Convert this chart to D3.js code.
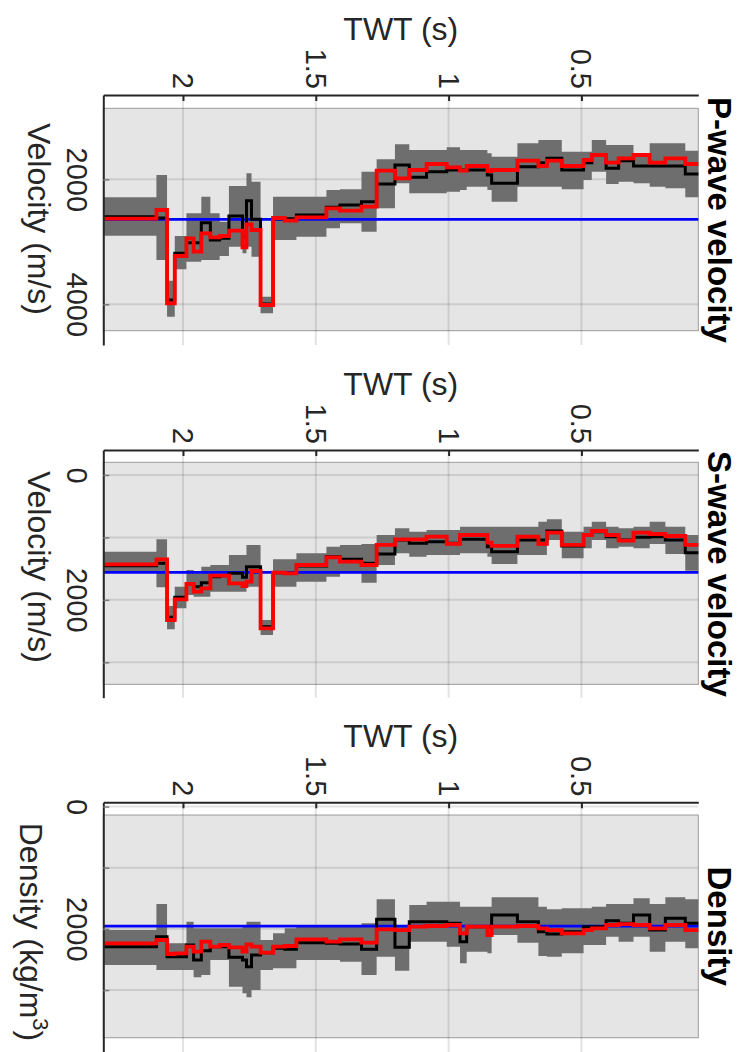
<!DOCTYPE html>
<html>
<head>
<meta charset="utf-8">
<script src="https://cdn.jsdelivr.net/npm/d3@7"></script>
<style>
  body { margin: 0; background: #fff; }
  svg { display: block; }
</style>
</head>
<body>
<svg width="740" height="1052"></svg>
<script>
// layer edges in TWT (s), listed left to right as drawn (deep -> shallow)
const twtEdges = [2.30, 2.100, 2.060, 2.031, 1.987, 1.960, 1.931, 1.897, 1.862, 1.827, 1.776,
  1.761, 1.742, 1.708, 1.661, 1.617, 1.573, 1.460, 1.409, 1.328, 1.271, 1.202, 1.148, 1.083,
  1.007, 0.957, 0.932, 0.854, 0.838, 0.741, 0.662, 0.630, 0.574, 0.492, 0.461, 0.407, 0.360,
  0.304, 0.243, 0.184, 0.109, 0.06];
const twtTicks = [2, 1.5, 1, 0.5];

// P-wave velocity (m/s)
const vpMean = [2597, 2619, 3931, 3184, 3013, 3013, 2693, 2971, 2944, 2587, 2917, 2342, 2640, 3995,
  2630, 2630, 2571, 2448, 2411, 2358, 2075, 1771, 1968, 1878, 1851, 1851, 1851, 1931, 2064, 1798,
  1734, 1664, 1851, 1734, 1611, 1824, 1702, 1787, 1787, 1787, 1915];
const vpTrue = [2630, 2491, 3984, 3227, 2944, 3157, 2864, 2928, 2907, 2821, 3088, 2720, 2811, 4011,
  2619, 2662, 2608, 2464, 2502, 2438, 1862, 1984, 1851, 1755, 1808, 1862, 1787, 1867, 1851, 1702,
  1787, 1702, 1787, 1691, 1611, 1734, 1664, 1611, 1734, 1664, 1755];
const vpLow = [2288, 1931, 3621, 2907, 2544, 2544, 2278, 2544, 2678, 2107, 2107, 1904, 2038, 3877,
  2278, 2278, 2278, 2171, 2160, 1878, 1680, 1440, 1531, 1531, 1488, 1531, 1531, 1584, 1638, 1424,
  1371, 1371, 1558, 1558, 1371, 1451, 1451, 1584, 1424, 1424, 1542];
const vpHigh = [2901, 3291, 4197, 3440, 3318, 3318, 3291, 3291, 3227, 3077, 3184, 3077, 3238, 4144,
  2971, 2971, 2917, 2784, 2704, 2837, 2464, 2064, 2224, 2224, 2198, 2171, 2118, 2171, 2358, 2118,
  2118, 2118, 2160, 2011, 1878, 2075, 2038, 2064, 2118, 2144, 2288];
const vpStart = 2640;

// S-wave velocity (m/s)
const vsMean = [1453, 1415, 2280, 1960, 1746, 1789, 1725, 1629, 1613, 1575, 1639, 1469, 1469, 2429,
  1565, 1575, 1458, 1308, 1351, 1415, 1266, 1041, 1095, 1068, 1095, 1031, 1031, 1148, 1228, 1041,
  1041, 897, 1137, 961, 908, 988, 1041, 999, 988, 1041, 1244];
const vsTrue = [1431, 1351, 2323, 1992, 1746, 1869, 1816, 1613, 1613, 1735, 1778, 1709, 1538, 2456,
  1565, 1575, 1442, 1319, 1388, 1442, 1121, 1031, 1031, 988, 1105, 961, 961, 1084, 1137, 988,
  1105, 924, 1121, 961, 897, 961, 1052, 924, 945, 977, 1121];
const vsLow = [1228, 1031, 2098, 1789, 1522, 1575, 1469, 1442, 1442, 1282, 1282, 1121, 1121, 2323,
  1351, 1351, 1255, 1148, 1121, 1105, 961, 854, 908, 881, 881, 828, 828, 828, 828, 828,
  748, 710, 908, 828, 748, 828, 854, 828, 748, 828, 961];
const vsHigh = [1549, 1800, 2472, 2136, 1922, 1949, 1949, 1869, 1869, 1869, 1869, 1789, 1789, 2563,
  1789, 1789, 1709, 1629, 1575, 1725, 1442, 1255, 1308, 1282, 1282, 1255, 1255, 1308, 1426, 1282,
  1282, 1041, 1335, 1175, 1041, 1175, 1148, 1175, 1105, 1266, 1533];
const vsStart = 1560;

// Density (kg/m^3)
const rhoMean = [2291, 2128, 2455, 2455, 2264, 2509, 2357, 2291, 2291, 2466, 2509, 2618, 2427, 2389,
  2318, 2335, 2226, 2237, 2248, 2335, 1844, 2302, 1883, 1883, 1910, 2209, 1964, 1964, 1773, 1883,
  2046, 2084, 2046, 1964, 1964, 1866, 1910, 1773, 2019, 1828, 1910];
const rhoTrue = [2237, 2182, 2411, 2400, 2291, 2373, 2209, 2291, 2264, 2302, 2373, 2253, 2291, 2389,
  2291, 2280, 2171, 2209, 2171, 2226, 2008, 2019, 1964, 1953, 1937, 2073, 1964, 2100, 1964, 1953,
  1991, 2019, 2073, 2019, 1991, 1937, 1921, 1937, 1991, 1937, 2019];
const rhoLow = [2019, 1594, 2237, 2237, 1883, 1991, 1991, 1991, 1991, 1991, 1964, 1883, 1883, 2182,
  2073, 1991, 1937, 1937, 1937, 1910, 1517, 1964, 1610, 1556, 1556, 1637, 1637, 1637, 1485, 1485,
  1637, 1681, 1665, 1665, 1637, 1594, 1594, 1501, 1594, 1485, 1517];
const rhoHigh = [2591, 2673, 2673, 2673, 2673, 2792, 2755, 2509, 2509, 2945, 3054, 3119, 2999, 2673,
  2645, 2645, 2509, 2509, 2536, 2755, 2455, 2684, 2209, 2209, 2291, 2564, 2373, 2400, 2100, 2226,
  2444, 2455, 2400, 2264, 2264, 2128, 2209, 2128, 2373, 2209, 2318];
const rhoStart = 1955;

// layout of the three (rotated) panels
const panels = [
  { title: "P-wave velocity", label: ["Velocity (m/s)"], mean: vpMean, truth: vpTrue, low: vpLow, high: vpHigh,
    start: vpStart, ylim: [651, 4651], prior: [864, 4422], ticks: [2000, 4000], labelled: [2000, 4000],
    top: 95, bottom: 345, labelX: 28, labelY: 219 },
  { title: "S-wave velocity", label: ["Velocity (m/s)"], mean: vsMean, truth: vsTrue, low: vsLow, high: vsHigh,
    start: vsStart, ylim: [-400, 3567], prior: [-203, 3353], ticks: [0, 1000, 2000, 3000], labelled: [0, 2000],
    top: 450, bottom: 697.7, labelX: 28, labelY: 567 },
  { title: "Density", label: ["Density (kg/m", "3", ")"], mean: rhoMean, truth: rhoTrue, low: rhoLow, high: rhoHigh,
    start: rhoStart, ylim: [-69, 4013], prior: [139, 3780], ticks: [0, 1000, 2000, 3000], labelled: [0, 2000],
    top: 802.3, bottom: 1052, labelX: 20, labelY: 932 }
];

const svg = d3.select("svg");
const font = "'Liberation Sans', Arial, Helvetica, sans-serif";
const ink = "#262626";
const left = 103.3, right = 698.3;

const x = d3.scaleLinear().domain([2.30, 0.06]).range([left, right]);

// step points: value i held from edge i to edge i+1
function steps(values) {
  return twtEdges.map((t, i) => ({ t, v: values[Math.min(i, values.length - 1)] }));
}

panels.forEach(p => {
  const y = d3.scaleLinear().domain(p.ylim).range([p.top, p.bottom]);
  const g = svg.append("g");

  // prior range background
  g.append("rect")
    .attr("x", left).attr("width", right - left)
    .attr("y", y(p.prior[0])).attr("height", y(p.prior[1]) - y(p.prior[0]))
    .attr("fill", "#e5e5e5").attr("stroke", "#9b9b9b").attr("stroke-width", 1);

  // grid
  g.append("g").selectAll("line").data(twtTicks).join("line")
    .attr("x1", d => x(d)).attr("x2", d => x(d))
    .attr("y1", p.top).attr("y2", p.bottom)
    .attr("stroke", ink).attr("stroke-opacity", 0.13).attr("stroke-width", 2);
  g.append("g").selectAll("line").data(p.ticks).join("line")
    .attr("x1", left).attr("x2", right)
    .attr("y1", d => y(d)).attr("y2", d => y(d))
    .attr("stroke", ink).attr("stroke-opacity", 0.13).attr("stroke-width", 2);

  // uncertainty band
  const hi = steps(p.high);
  const band = steps(p.low).map((d, i) => ({ t: d.t, lo: d.v, hi: hi[i].v }));
  g.append("path").datum(band)
    .attr("fill", "#6e6e6e")
    .attr("d", d3.area().curve(d3.curveStepAfter)
      .x(d => x(d.t)).y0(d => y(d.lo)).y1(d => y(d.hi)));

  // starting model
  g.append("line")
    .attr("x1", left).attr("x2", right)
    .attr("y1", y(p.start)).attr("y2", y(p.start))
    .attr("stroke", "#0000ff").attr("stroke-width", 2.8);

  const line = d3.line().curve(d3.curveStepAfter).x(d => x(d.t)).y(d => y(d.v));
  g.append("path").datum(steps(p.mean))
    .attr("fill", "none").attr("stroke", "#000").attr("stroke-width", 3)
    .attr("d", line);
  g.append("path").datum(steps(p.truth))
    .attr("fill", "none").attr("stroke", "#ff0000").attr("stroke-width", 3.8)
    .attr("d", line);

  // TWT axis along the top
  const ax = g.append("g").attr("transform", `translate(0,${p.top})`)
    .call(d3.axisTop(x).tickValues(twtTicks).tickFormat(d3.format("~g"))
      .tickSizeInner(-6).tickSizeOuter(0));
  ax.attr("font-family", font).attr("font-size", 29).attr("color", ink);
  ax.select(".domain").attr("stroke-width", 2);
  ax.selectAll(".tick line").attr("stroke-width", 2);
  ax.selectAll(".tick text")
    .attr("transform", "rotate(90)")
    .attr("x", -6).attr("y", 0).attr("dy", "0.36em")
    .attr("text-anchor", "end").attr("fill", ink);

  // value axis along the left
  const ay = g.append("g").attr("transform", `translate(${left},0)`)
    .call(d3.axisLeft(y).tickValues(p.ticks)
      .tickFormat(d => p.labelled.includes(d) ? d3.format("d")(d) : "")
      .tickSizeInner(-6).tickSizeOuter(0));
  ay.attr("font-family", font).attr("font-size", 29).attr("color", ink);
  ay.select(".domain").attr("stroke-width", 2);
  ay.selectAll(".tick line").attr("stroke", "#7a7a7a").attr("stroke-width", 1.5);
  ay.selectAll(".tick text")
    .attr("transform", "rotate(90)")
    .attr("x", 0).attr("y", left - 67).attr("dy", 0)
    .attr("text-anchor", "middle").attr("fill", ink);

  // axis labels and title
  svg.append("text")
    .attr("x", (left + right) / 2).attr("y", p.top - 55)
    .attr("text-anchor", "middle")
    .attr("font-family", font).attr("font-size", 32).attr("fill", ink)
    .text("TWT (s)");

  const lab = svg.append("text")
    .attr("transform", `translate(${p.labelX},${p.labelY}) rotate(90)`)
    .attr("text-anchor", "middle")
    .attr("font-family", font).attr("font-size", 32).attr("fill", ink);
  lab.append("tspan").text(p.label[0]);
  if (p.label.length > 1) {
    lab.append("tspan").attr("dy", -13).attr("font-size", 22).text(p.label[1]);
    lab.append("tspan").attr("dy", 13).text(p.label[2]);
  }

  svg.append("text")
    .attr("transform", `translate(708,${(p.top + p.bottom) / 2 + (p.bottom > 1000 ? -1 : 0)}) rotate(90)`)
    .attr("text-anchor", "middle")
    .attr("font-family", font).attr("font-size", 33).attr("font-weight", "bold").attr("fill", "#000")
    .text(p.title);
});
</script>
</body>
</html>
